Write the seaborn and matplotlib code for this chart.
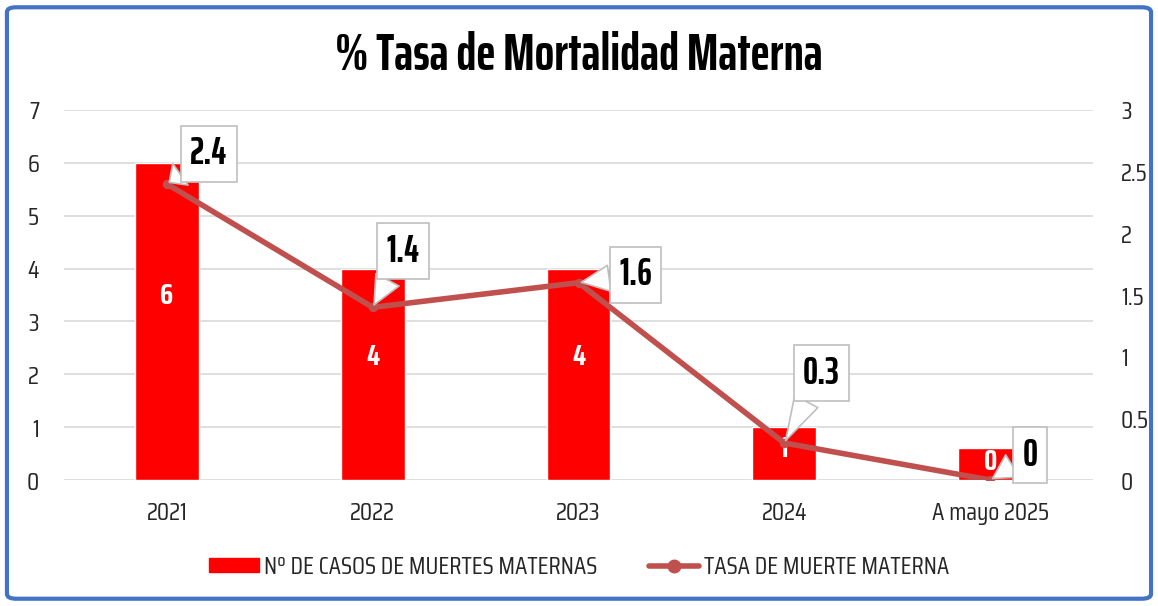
import matplotlib
matplotlib.use('Agg')
import matplotlib.pyplot as plt
import seaborn as sns
import pandas as pd
from matplotlib.patches import FancyBboxPatch, Patch
from matplotlib.lines import Line2D

categorias = ['2021', '2022', '2023', '2024', 'A mayo 2025']
casos = [6, 4, 4, 1, 0.6]           # altura visible de las barras
casos_etiq = ['6', '4', '4', '1', '0']
tasa = [2.4, 1.4, 1.6, 0.3, 0]
tasa_etiq = ['2.4', '1.4', '1.6', '0.3', '0']
# desplazamiento de cada globo de texto (pixeles)
globo_dx = [42, 30, 57, 37, 40]
globo_dy = [30, 56, 8, 70, 25]

rojo = '#FF0000'
rojo_linea = '#C0504D'
estrecha = ['Saira ExtraCondensed', 'DejaVu Sans']

sns.set_theme(style='white')
plt.rcParams['font.family'] = ['Saira Condensed', 'DejaVu Sans']

df = pd.DataFrame({'cat': categorias, 'casos': casos, 'tasa': tasa})

fig = plt.figure(figsize=(11.58, 6.06), dpi=100)
ax = fig.add_axes([0.0553, 0.2079, 0.8886, 0.6106])

sns.barplot(data=df, x='cat', y='casos', color=rojo, saturation=1, width=0.31, ax=ax, zorder=2)
ax.set_ylim(0, 7)
ax.set_yticks(range(0, 8))
ax.yaxis.grid(True, color='#D9D9D9', linewidth=1.2, zorder=0)
ax.xaxis.grid(False)
ax.set_axisbelow(True)
for s in ax.spines.values():
    s.set_visible(False)
ax.set_xlabel('')
ax.set_ylabel('')
ax.tick_params(axis='y', length=0, pad=18, labelsize=18, labelcolor='#262626')
ax.tick_params(axis='x', length=0, pad=15, labelsize=18, labelcolor='#262626')

for i, (v, t) in enumerate(zip(casos, casos_etiq)):
    ax.text(i, v * 0.58, t, ha='center', va='center', color='white',
            fontsize=20, fontweight='bold', zorder=5)

ax2 = ax.twinx()
sns.lineplot(data=df, x='cat', y='tasa', color=rojo_linea, linewidth=4,
             marker='o', markersize=6, markeredgecolor=rojo_linea,
             sort=False, ax=ax2, zorder=4)
ax2.set_ylim(0, 3)
ax2.set_yticks([0, 0.5, 1, 1.5, 2, 2.5, 3])
ax2.set_yticklabels(['0', '0.5', '1', '1.5', '2', '2.5', '3'])
for s in ax2.spines.values():
    s.set_visible(False)
ax2.set_ylabel('')
ax2.grid(False)
ax2.tick_params(axis='y', length=0, pad=20, labelsize=18, labelcolor='#262626')
ax.set_xlim(-0.5, len(categorias) - 0.5)

for i, (v, t) in enumerate(zip(tasa, tasa_etiq)):
    ax2.annotate(t, xy=(i, v), xytext=(globo_dx[i], globo_dy[i]),
                 textcoords='offset pixels', ha='center', va='center',
                 fontsize=27, fontweight='bold', color='black', zorder=6,
                 family=estrecha,
                 bbox=dict(boxstyle='square,pad=0.25', fc='white', ec='#BFBFBF', lw=1.2),
                 arrowprops=dict(arrowstyle='wedge,tail_width=0.7', fc='white',
                                 ec='#BFBFBF', lw=1.2, shrinkA=0, shrinkB=2))

fig.text(0.5, 0.909, '% Tasa de Mortalidad Materna', ha='center', va='center',
         fontsize=37, fontweight='bold', color='black', family=estrecha)

handles = [Patch(facecolor=rojo, edgecolor=rojo),
           Line2D([0], [0], color=rojo_linea, linewidth=4, marker='o', markersize=9)]
fig.legend(handles, ['Nº DE CASOS DE MUERTES MATERNAS', 'TASA DE MUERTE MATERNA'],
           loc='center', bbox_to_anchor=(0.5, 0.064), ncol=2, frameon=False,
           fontsize=18, handlelength=2.0, handleheight=0.5, columnspacing=2.1,
           handletextpad=0.2)

borde = FancyBboxPatch((0.006, 0.012), 0.988, 0.976, boxstyle='round,pad=0,rounding_size=0.008',
                       transform=fig.transFigure, fill=False, ec='#4472C4', lw=3)
fig.patches.append(borde)

fig.savefig('out.png', dpi=100)
